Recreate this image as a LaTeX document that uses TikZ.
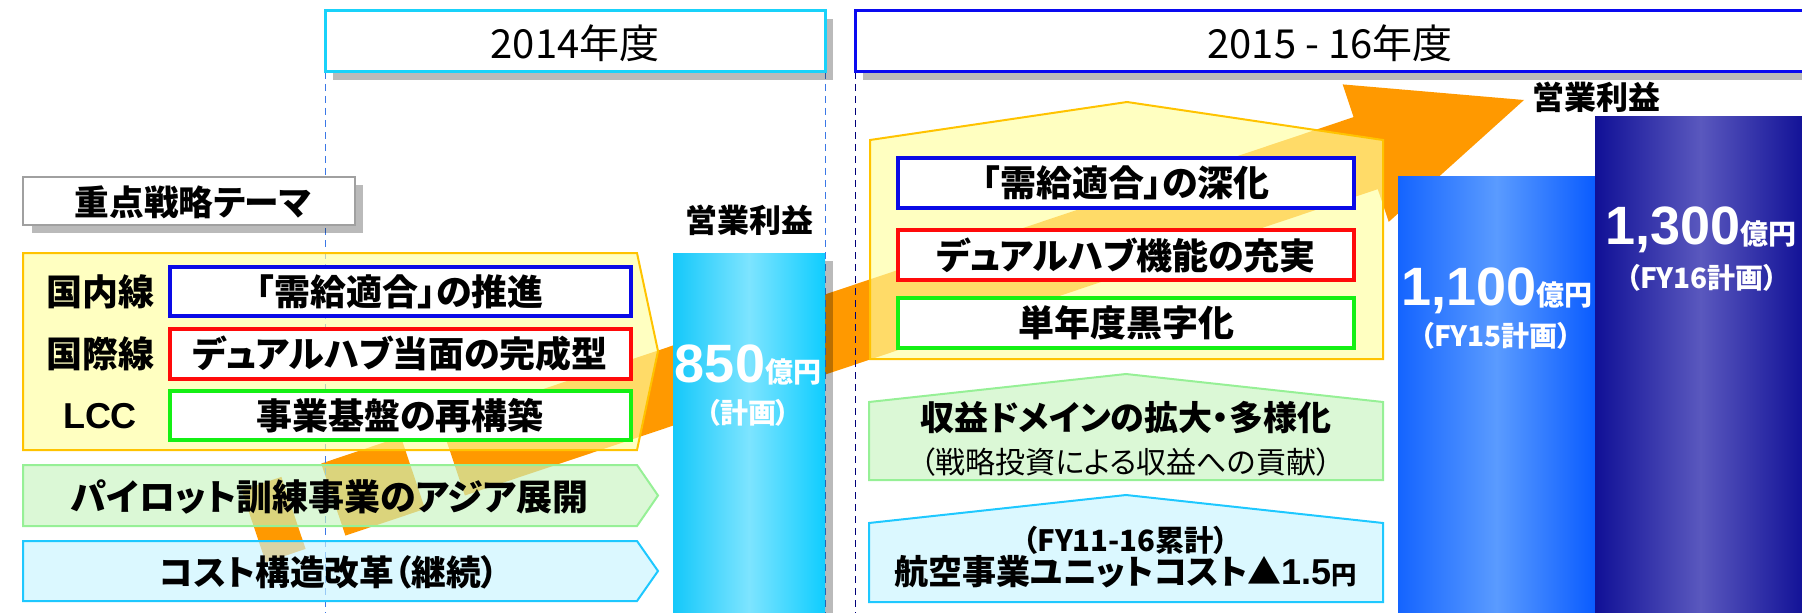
\documentclass[tikz,border=0pt]{standalone}
\usepackage{fontspec}
\setmainfont{Liberation Sans}
\newfontfamily\jp{Noto Sans CJK JP}[RawFeature=+palt]
\newcommand{\jpfs}[1]{\jp\bfseries\fontsize{#1}{#1}\selectfont}
\newcommand{\jpreg}[1]{\jp\mdseries\fontsize{#1}{#1}\selectfont}
\newcommand{\numfs}[1]{\rmfamily\bfseries\fontsize{#1}{#1}\selectfont}

\definecolor{ribbon}{RGB}{255,153,0}
\definecolor{lineyellow}{RGB}{255,195,0}
\definecolor{fillyellow}{RGB}{255,255,160}
\definecolor{linegreen}{RGB}{150,240,150}
\definecolor{fillgreen}{RGB}{200,245,192}
\definecolor{linecyan}{RGB}{30,200,255}
\definecolor{fillcyan}{RGB}{200,245,255}
\definecolor{boxblue}{RGB}{10,10,230}
\definecolor{boxred}{RGB}{255,10,10}
\definecolor{boxgreen}{RGB}{20,240,20}
\definecolor{hdrcyan}{RGB}{25,210,250}
\definecolor{hdrblue}{RGB}{10,10,240}
\definecolor{dashlight}{RGB}{60,120,230}
\definecolor{dashnavy}{RGB}{0,0,120}
\definecolor{bar850a}{RGB}{20,200,250}
\definecolor{bar850b}{RGB}{125,228,255}
\definecolor{bar850c}{RGB}{15,205,255}
\definecolor{bar1100a}{RGB}{20,100,255}
\definecolor{bar1100b}{RGB}{90,155,255}
\definecolor{bar1100c}{RGB}{10,92,255}
\definecolor{bar1300a}{RGB}{16,16,150}
\definecolor{bar1300b}{RGB}{90,88,190}
\definecolor{bar1300c}{RGB}{16,16,150}

\tikzset{
  castshadow/.style={fill=black, fill opacity=0.27},
  hdrbox/.style={draw=#1, line width=2.25pt, fill=white},
  panel/.style 2 args={draw=#1, line width=1.5pt, fill=#2, fill opacity=0.65},
  themebox/.style={draw=#1, line width=3pt, fill=white},
  dashline/.style={draw=#1, line width=0.75pt, dash pattern=on 5pt off 4pt},
  jplabel/.style={inner sep=0pt, font=\jpfs{#1}},
  onbar/.style={inner sep=0pt, text=white, anchor=base},
}

\begin{document}
\begin{tikzpicture}[x=0.75pt,y=0.75pt,yscale=-1,xscale=1]
\useasboundingbox (0,0) rectangle (1802,613);

%Shape: Striped Arrow
\begin{scope}[shift={(1524,100)},rotate=-18.55]
\fill [ribbon] (0,0) -- (-167,-72.5) -- (-167,-38) -- (-1130,-38) -- (-1130,38) -- (-167,38) -- (-167,72.5) -- cycle ;
\fill [ribbon] (-1172,-38) rectangle (-1256,38) ;
\fill [ribbon] (-1298,-38) rectangle (-1340,38) ;
\end{scope}

%Straight Lines
\draw [dashline=dashlight] (325,72) -- (325,613) ;
\draw [dashline=dashlight] (825,72) -- (825,613) ;
\draw [dashline=dashnavy] (855,72) -- (855,613) ;

%Shape: Rectangle (shadows)
\fill [castshadow] (333,19) rectangle (833,80) ;
\fill [castshadow] (863,19) rectangle (1814,80) ;
\fill [castshadow] (32,185) rectangle (363,233) ;
\fill [castshadow] (825,261) rectangle (833,616) ;

%Shape: Rectangle (headers)
\draw [hdrbox=hdrcyan] (325,11) rectangle (825,72) ;
\draw [hdrbox=hdrblue] (855,11) rectangle (1806,72) ;
\draw [draw={rgb,255:red,160;green,160;blue,160}, line width=1pt, fill=white] (23,177) rectangle (355,225) ;

%Shape: Pentagon
\draw [panel={lineyellow}{fillyellow}] (23,253) -- (637,253) -- (658,351) -- (637,450) -- (23,450) -- cycle ;
\draw [panel={linegreen}{fillgreen}] (23,465) -- (637,465) -- (658,495.5) -- (637,526) -- (23,526) -- cycle ;
\draw [panel={linecyan}{fillcyan}] (23,541) -- (637,541) -- (658,571) -- (637,601) -- (23,601) -- cycle ;
\draw [panel={lineyellow}{fillyellow}] (870,140) -- (1127,102) -- (1383,140) -- (1383,359) -- (870,359) -- cycle ;
\draw [panel={linegreen}{fillgreen}] (869,402) -- (1126,374) -- (1383,402) -- (1383,480) -- (869,480) -- cycle ;
\draw [panel={linecyan}{fillcyan}] (869,523) -- (1126,495) -- (1383,523) -- (1383,602) -- (869,602) -- cycle ;

%Shape: Rectangle (themes)
\draw [themebox=boxblue] (170,267) rectangle (631,316) ;
\draw [themebox=boxred] (170,329) rectangle (631,379) ;
\draw [themebox=boxgreen] (170,391) rectangle (631,440) ;
\draw [themebox=boxblue] (898,158) rectangle (1354,208) ;
\draw [themebox=boxred] (898,230) rectangle (1354,280) ;
\draw [themebox=boxgreen] (898,298) rectangle (1354,348) ;

%Shape: Rectangle (bars)
\shade [left color=bar850a, right color=bar850c, middle color=bar850b] (673,253) rectangle (825,616) ;
\shade [left color=bar1100a, right color=bar1100c, middle color=bar1100b] (1398,177) rectangle (1595,616) ;
\shade [left color=bar1300a, right color=bar1300c, middle color=bar1300b] (1595,117) rectangle (1806,616) ;

% Text Node
\node [inner sep=0pt, font=\jp\fontsize{30}{30}\selectfont] (yr14) at (575,43) {2014年度};
% Text Node
\node [inner sep=0pt, font=\jp\fontsize{30}{30}\selectfont] (yr1516) at (1330,43) {2015 - 16年度};
% Text Node
\node [jplabel=26] (theme) at (193,202) {重点戦略テーマ};
% Text Node
\node [jplabel=27] (dom) at (100,292) {国内線};
% Text Node
\node [jplabel=27] (intl) at (100,354) {国際線};
% Text Node
\node [inner sep=0pt, font=\numfs{27}] (lcc) at (100,416) {LCC};
% Text Node
\node [jplabel=27] (domtheme) at (400,292) {「需給適合」の推進};
% Text Node
\node [jplabel=27] (intltheme) at (400,354) {デュアルハブ当面の完成型};
% Text Node
\node [jplabel=27] (lcctheme) at (400,416) {事業基盤の再構築};
% Text Node
\node [jplabel=27] (pilot) at (330,497) {パイロット訓練事業のアジア展開};
% Text Node
\node [jplabel=26] (cost) at (329,572) {コスト構造改革（継続）};
% Text Node
\node [jplabel=24] (op14) at (749,220) {営業利益};
% Text Node
\node [onbar] (v850) at (748,382) {{\numfs{40.5}850}{\jpfs{21}億円}};
% Text Node
\node [jplabel=21, text=white] (plan850) at (748,413) {（計画）};
% Text Node
\node [jplabel=27] (dom15) at (1126,183) {「需給適合」の深化};
% Text Node
\node [jplabel=27] (hub15) at (1126,255) {デュアルハブ機能の充実};
% Text Node
\node [jplabel=27] (prof15) at (1126,323) {単年度黒字化};
% Text Node
\node [jplabel=25.5] (domain) at (1126,418) {収益ドメインの拡大・多様化};
% Text Node
\node [inner sep=0pt, font=\jpreg{22.5}] (domainsub) at (1126,462) {（戦略投資による収益への貢献）};
% Text Node
\node [jplabel=22] (cum) at (1126,540) {（FY11-16累計）};
% Text Node
\node [jplabel=25.5] (unit) at (1126,572) {航空事業ユニットコスト▲{\numfs{27}1.5}{\jpfs{19}円}};
% Text Node
\node [jplabel=24] (op16) at (1596,97) {営業利益};
% Text Node
\node [onbar] (v1100) at (1497,305) {{\numfs{40.5}1,100}{\jpfs{21}億円}};
% Text Node
\node [jplabel=21, text=white] (plan15) at (1496,336) {（FY15計画）};
% Text Node
\node [onbar] (v1300) at (1701,244) {{\numfs{40.5}1,300}{\jpfs{21}億円}};
% Text Node
\node [jplabel=21, text=white] (plan16) at (1702,278) {（FY16計画）};
\end{tikzpicture}
\end{document}
